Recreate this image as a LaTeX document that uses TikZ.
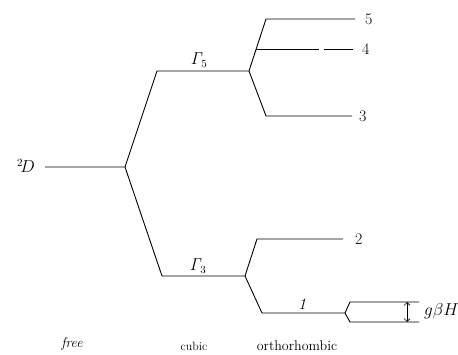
\documentclass[tikz,border=0pt]{standalone}
\usetikzlibrary{arrows.meta}
\begin{document}
\begin{tikzpicture}[x=1pt,y=-1pt,
  level/.style={line width=0.9pt, line join=miter},
  lbl/.style={font=\fontsize{16}{18}\selectfont, inner sep=1pt},
  axis/.style={font=\fontsize{14}{16}\selectfont, inner sep=1pt}]
\useasboundingbox (0,0) rectangle (458,355);
% free ion level and its cubic splitting
\coordinate (d0) at (45,167);
\coordinate (d1) at (125,167);
\coordinate (g5a) at (157,71);
\coordinate (g5b) at (249,71);
\coordinate (g3a) at (162,276);
\coordinate (g3b) at (245,276);
\draw[level] (d0) -- (d1) -- (g5a) -- (g5b);
\draw[level] (d1) -- (g3a) -- (g3b);
\node[lbl, anchor=east] (lD) at (36,166) {${}^2\!D$};
\node[lbl] (lG5) at (199,60) {$\mathit{\Gamma}_5$};
\node[lbl] (lG3) at (198,266) {$\mathit{\Gamma}_3$};
% orthorhombic levels from Gamma_5
\coordinate (l5a) at (266,19);
\coordinate (l5b) at (355,19);
\coordinate (l4a) at (256,49);
\coordinate (l4g) at (319,49);
\coordinate (l4h) at (324,49);
\coordinate (l4b) at (353,49);
\coordinate (l3a) at (266,116);
\coordinate (l3b) at (352,116);
\draw[level] (g5b) -- (l5a) -- (l5b);
\draw[level] (l4a) -- (l4g);
\draw[level] (l4h) -- (l4b);
\draw[level] (g5b) -- (l3a) -- (l3b);
\node[lbl, anchor=west] (n5) at (364,19) {5};
\node[lbl, anchor=west] (n4) at (361,49) {4};
\node[lbl, anchor=west] (n3) at (358,116) {3};
% orthorhombic levels from Gamma_3
\coordinate (l2a) at (257,239);
\coordinate (l2b) at (343,239);
\coordinate (l1a) at (262,313);
\coordinate (l1b) at (345,313);
\draw[level] (g3b) -- (l2a) -- (l2b);
\draw[level] (g3b) -- (l1a) -- (l1b);
\node[lbl, anchor=west] (n2) at (354,239) {2};
\node[lbl] (n1) at (302,304) {\itshape 1};
% Zeeman splitting of level 1
\coordinate (zua) at (350,302);
\coordinate (zub) at (419,302);
\coordinate (zla) at (350,322);
\coordinate (zlb) at (419,322);
\draw[level] (zub) -- (zua) -- (l1b) -- (zla) -- (zlb);
\coordinate (za) at (407,302);
\coordinate (zb) at (407,322);
\draw[line width=0.6pt, {Straight Barb[length=3pt]}-{Straight Barb[length=3pt]}] (za) -- (zb);
\node[lbl, anchor=west] (gbh) at (423,311) {$g\beta H$};
% symmetry labels
\node[axis] (free) at (72,344) {\itshape free};
\node[axis, font=\fontsize{12}{14}\selectfont] (cubic) at (194,346) {cubic};
\node[axis] (ortho) at (297,346) {orthorhombic};
\end{tikzpicture}
\end{document}
